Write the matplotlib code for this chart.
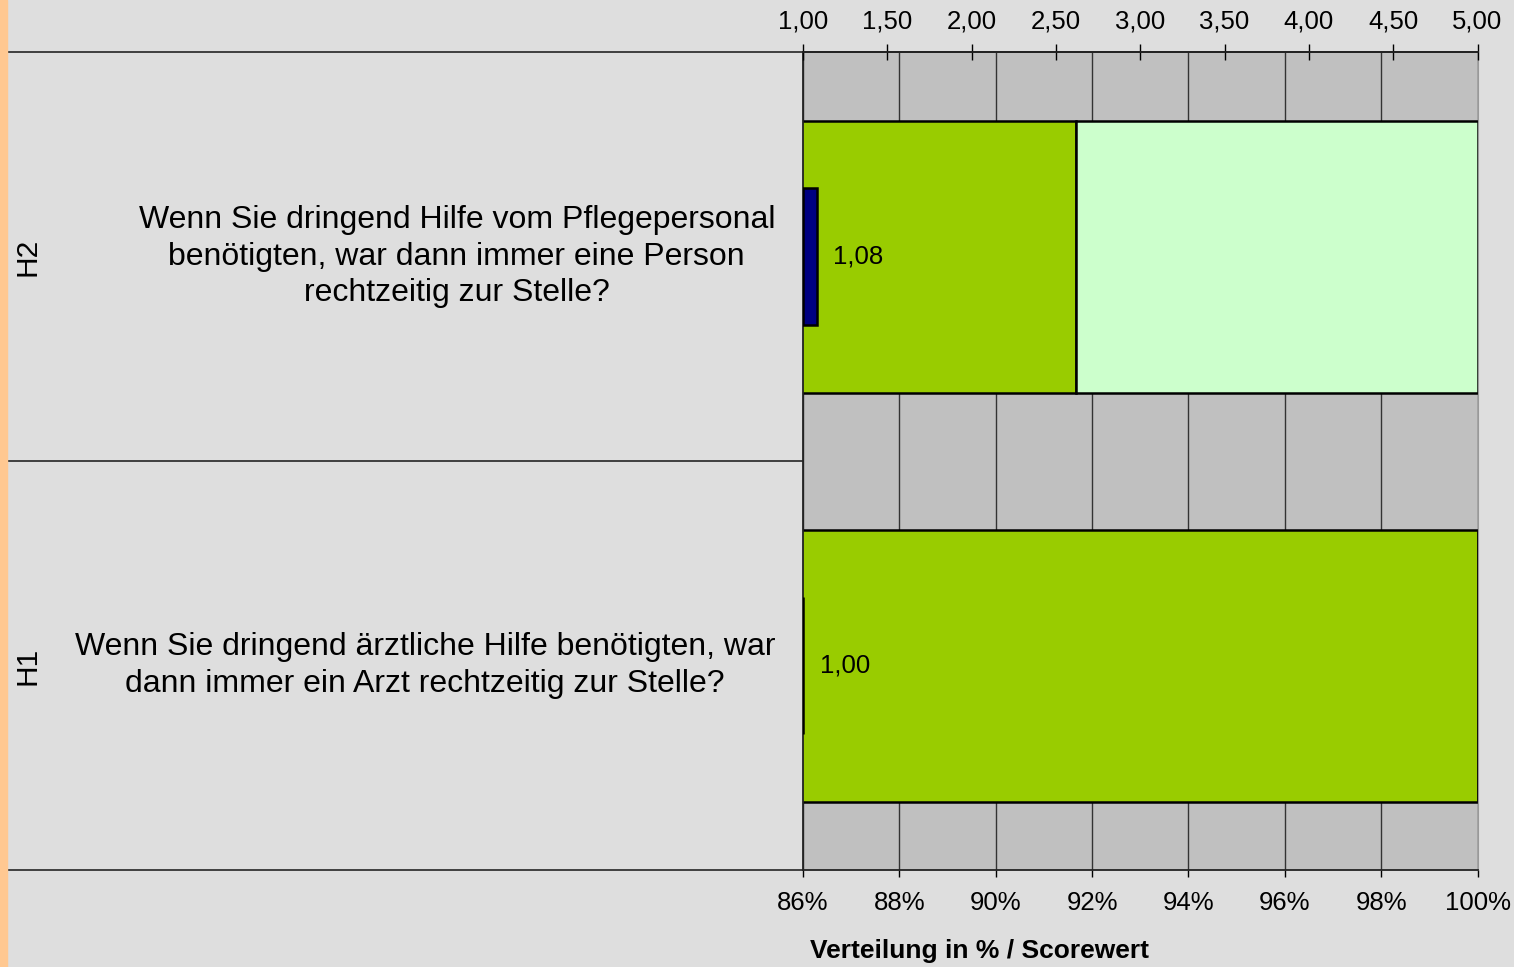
import matplotlib.pyplot as plt
from matplotlib.transforms import blended_transform_factory

plt.rcParams['font.family'] = ['Liberation Sans', 'DejaVu Sans']

# data, bottom to top
codes = ['H1', 'H2']
questions = [
    'Wenn Sie dringend ärztliche Hilfe benötigten, war\n'
    'dann immer ein Arzt rechtzeitig zur Stelle?',
    'Wenn Sie dringend Hilfe vom Pflegepersonal\n'
    'benötigten, war dann immer eine Person\n'
    'rechtzeitig zur Stelle?',
]
pct_yes = [100.0, 91.67]
pct_no = [0.0, 8.33]
scores = [1.00, 1.08]

pct_ticks = [86, 88, 90, 92, 94, 96, 98, 100]
score_ticks = [1.0, 1.5, 2.0, 2.5, 3.0, 3.5, 4.0, 4.5, 5.0]

BG = '#DEDEDE'
PLOT_BG = '#C0C0C0'
GREEN = '#99CC00'
LIGHT = '#CCFFCC'
NAVY = '#000080'


def fmt_de(v, nd=2):
    return f'{v:.{nd}f}'.replace('.', ',')


fig = plt.figure(figsize=(15.14, 9.67), dpi=100, facecolor=BG)
ax = fig.add_axes([0.5304, 0.1003, 0.4455, 0.8459])
ax.set_facecolor(PLOT_BG)

# orange strip on the left edge
fig.patches.append(plt.Rectangle((0, 0), 7 / 1514, 1, transform=fig.transFigure,
                                 color='#FFC891', zorder=0))

y = list(range(len(codes)))
ax.barh(y, pct_yes, left=0, height=0.665, color=GREEN,
        edgecolor='black', linewidth=1.8, zorder=2)
ax.barh(y, pct_no, left=pct_yes, height=0.665, color=LIGHT,
        edgecolor='black', linewidth=1.8, zorder=2)
ax.set_xlim(86, 100)
ax.set_ylim(-0.5, len(codes) - 0.5)
ax.set_xticks(pct_ticks)
ax.set_xticklabels([f'{t}%' for t in pct_ticks])
ax.set_yticks([])
ax.grid(axis='x', color='#333333', linewidth=1.0, zorder=1)
ax.set_axisbelow(True)
ax.tick_params(axis='x', direction='out', length=5, width=1,
               labelsize=18.5, pad=10)
for side in ['left', 'bottom', 'top']:
    ax.spines[side].set_color('#222222')
    ax.spines[side].set_linewidth(1.3)
ax.spines['right'].set_color('#999999')

# score axis on top
ax2 = ax.twiny()
ax2.barh(y, [s - 1 for s in scores], left=1, height=0.335, color=NAVY,
         edgecolor='black', linewidth=1.8, zorder=3)
ax2.set_xlim(1, 5)
ax2.set_xticks(score_ticks)
ax2.set_xticklabels([fmt_de(t) for t in score_ticks])
ax2.tick_params(axis='x', direction='inout', length=12, width=1,
                labelsize=18.5, pad=7.5)
for side in ['left', 'right', 'bottom']:
    ax2.spines[side].set_visible(False)
ax2.spines['top'].set_color('#222222')
ax2.spines['top'].set_linewidth(1.3)
for yi, s in zip(y, scores):
    ax2.annotate(fmt_de(s), (s, yi), xytext=(12, 0),
                 textcoords='offset points', va='center', ha='left',
                 fontsize=18.5)

# category separators and labels on the left
tr = blended_transform_factory(ax.transAxes, ax.transData)
x_left = (7 - 803) / 674
bounds = [yi - 0.5 for yi in y] + [y[-1] + 0.5]
for b in bounds:
    ax.plot([x_left, 0], [b, b], transform=tr, color='#333333',
            linewidth=1.3, clip_on=False)
for yi, code, q in zip(y, codes, questions):
    ax.text(-0.0415, yi, q, transform=tr, ha='right', va='center',
            multialignment='center', fontsize=23, linespacing=1.28)
    ax.text(-1.15, yi, code, transform=tr, ha='center', va='center',
            rotation=90, fontsize=21.5)

fig.text(980 / 1514, 1 - 951 / 967, 'Verteilung in % / Scorewert',
         ha='center', va='center', fontsize=19, fontweight='bold')

fig.savefig('out.png', dpi=100, facecolor=BG)
